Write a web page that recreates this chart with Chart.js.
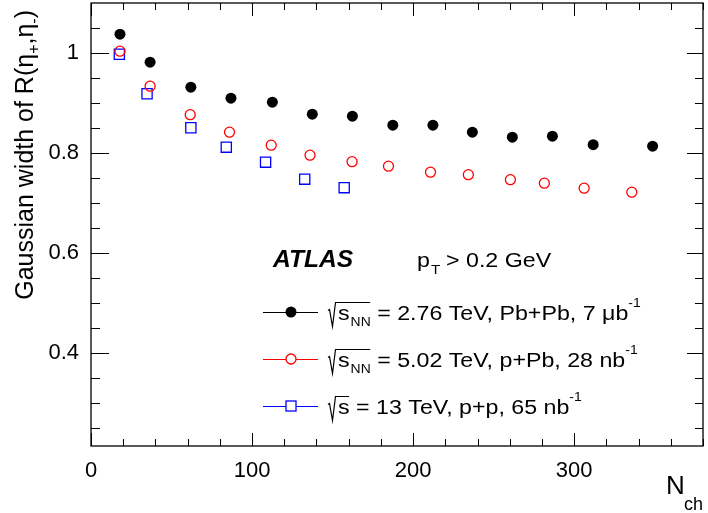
<!DOCTYPE html>
<html>
<head>
<meta charset="utf-8">
<script src="https://cdn.jsdelivr.net/npm/chart.js@4.4.1/dist/chart.umd.min.js"></script>
<style>
html, body { margin: 0; padding: 0; background: #fff; }
</style>
</head>
<body>
<canvas id="myChart" width="708" height="513"></canvas>
<script>
// Pb+Pb 2.76 TeV
const nchPbPb = [18.0, 36.7, 62.0, 86.9, 112.6, 137.4, 162.3, 187.4, 212.3, 236.8, 261.6, 286.5, 311.8, 348.7]
const widthPbPb = [1.037, 0.981, 0.931, 0.909, 0.901, 0.877, 0.873, 0.855, 0.855, 0.841, 0.831, 0.833, 0.816, 0.813]
// p+Pb 5.02 TeV
const nchPPb = [18.0, 36.7, 61.6, 86.0, 111.9, 136.0, 162.1, 184.7, 210.8, 234.3, 260.4, 281.5, 306.2, 335.8]
const widthPPb = [1.003, 0.933, 0.876, 0.841, 0.815, 0.795, 0.782, 0.773, 0.761, 0.756, 0.746, 0.739, 0.729, 0.721]
// p+p 13 TeV
const nchPP = [17.6, 34.8, 62.0, 84.0, 108.4, 132.7, 157.2]
const widthPP = [0.997, 0.918, 0.850, 0.811, 0.781, 0.747, 0.730]

const seriesSub = ['NN', 'NN', '']
const seriesText = [' = 2.76 TeV, Pb+Pb, 7 \u03bcb', ' = 5.02 TeV, p+Pb, 28 nb', ' = 13 TeV, p+p, 65 nb']
const seriesColors = ['#000000', '#ff0000', '#0000ff']

const xTicksMajor = [0, 100, 200, 300]
const yTicksMajor = [0.4, 0.6, 0.8, 1]

const FONT = "'Liberation Sans', Arial, Helvetica, sans-serif"

let xMinor = []
for (let v = 0; v <= 380; v += 20) xMinor.push(v)
let yMinor = []
for (let i = 5; i <= 21; i++) yMinor.push(Math.round(i * 5) / 100)

function toPoints(xs, ys) {
    return xs.map(function (x, i) { return { x: x, y: ys[i] } })
}

// draws a list of text pieces one after the other, stretched a bit in x
function richText(ctx, x, y, parts, sx) {
    ctx.save()
    ctx.translate(x, y)
    ctx.scale(sx, 1)
    let cx = 0
    parts.forEach(function (p) {
        ctx.font = p.font
        ctx.fillText(p.t, cx, p.dy || 0)
        cx += ctx.measureText(p.t).width
    })
    ctx.restore()
    return cx * sx
}

function drawSqrt(ctx, x0, yb, w) {
    ctx.beginPath()
    ctx.moveTo(x0, yb - 9)
    ctx.lineTo(x0 + 1.5, yb - 10)
    ctx.lineTo(x0 + 4.5, yb + 7)
    ctx.lineTo(x0 + 7.5, yb - 17)
    ctx.lineTo(x0 + 7.5 + w, yb - 17)
    ctx.stroke()
}

const decorPlugin = {
    id: 'decor',
    afterDraw(chart) {
        const ctx = chart.ctx
        const a = chart.chartArea
        const xs = chart.scales.x
        const ys = chart.scales.y
        ctx.save()
        ctx.strokeStyle = '#000'
        ctx.lineWidth = 1

        // ticks inside the frame
        ctx.beginPath()
        xMinor.forEach(function (v) {
            const px = Math.round(xs.getPixelForValue(v)) + 0.5
            const len = xTicksMajor.includes(v) ? 13 : 7
            ctx.moveTo(px, a.bottom); ctx.lineTo(px, a.bottom - len)
            ctx.moveTo(px, a.top); ctx.lineTo(px, a.top + len)
        })
        yMinor.forEach(function (v) {
            const py = Math.round(ys.getPixelForValue(v)) + 0.5
            const major = yTicksMajor.includes(v)
            ctx.moveTo(a.left, py); ctx.lineTo(a.left + (major ? 18 : 9), py)
            ctx.moveTo(a.right, py); ctx.lineTo(a.right - (major ? 16 : 8), py)
        })
        ctx.stroke()
        ctx.lineWidth = 1.3
        ctx.strokeRect(a.left, a.top, a.right - a.left, a.bottom - a.top)

        ctx.fillStyle = '#000'
        ctx.textBaseline = 'alphabetic'
        ctx.textAlign = 'left'

        // ATLAS label
        richText(ctx, 273, 267, [{ t: 'ATLAS', font: 'italic bold 23px ' + FONT }], 1.07)
        richText(ctx, 417, 267, [{ t: 'p', font: '20px ' + FONT }], 1.16)
        richText(ctx, 431, 274, [{ t: 'T', font: '13px ' + FONT }], 1.16)
        richText(ctx, 446, 267, [{ t: '> 0.2 GeV', font: '20px ' + FONT }], 1.16)

        // legend
        const rows = [312, 359, 406]
        rows.forEach(function (yc, i) {
            const col = seriesColors[i]
            ctx.strokeStyle = col
            ctx.lineWidth = 1
            ctx.beginPath()
            ctx.moveTo(263, yc + 0.5); ctx.lineTo(318, yc + 0.5)
            ctx.stroke()
            ctx.lineWidth = 1.3
            if (i === 0) {
                ctx.fillStyle = col
                ctx.beginPath(); ctx.arc(291, yc, 5.5, 0, Math.PI * 2); ctx.fill()
            } else if (i === 1) {
                ctx.fillStyle = '#fff'
                ctx.beginPath(); ctx.arc(291, yc, 5, 0, Math.PI * 2); ctx.fill(); ctx.stroke()
            } else {
                ctx.fillStyle = '#fff'
                ctx.fillRect(286, yc - 5, 10, 10)
                ctx.strokeRect(286, yc - 5, 10, 10)
            }

            const yb = yc + 7.5
            ctx.fillStyle = '#000'
            ctx.strokeStyle = '#000'
            ctx.lineWidth = 1.2
            const sub = seriesSub[i]
            let x = 338
            x += richText(ctx, x, yb, [{ t: 's', font: '20px ' + FONT }], 1.16)
            if (sub) x += richText(ctx, x + 1, yb + 6.5, [{ t: sub, font: '12px ' + FONT }], 1.16) + 1
            drawSqrt(ctx, 328, yb, x - 336)
            x += richText(ctx, x, yb, [{ t: seriesText[i], font: '20px ' + FONT }], 1.16)
            richText(ctx, x, yb - 13, [{ t: '-1', font: '12px ' + FONT }], 1.16)
        })

        // y title
        ctx.save()
        ctx.translate(33, 10)
        ctx.rotate(-Math.PI / 2)
        const big = '25px ' + FONT
        const small = '16px ' + FONT
        const parts = [
            { t: 'Gaussian width of R(\u03b7', font: big },
            { t: '+', font: small, dy: 6 },
            { t: ',\u03b7', font: big },
            { t: '-', font: small, dy: 6 },
            { t: ')', font: big }
        ]
        let total = 0
        parts.forEach(function (p) { ctx.font = p.font; total += ctx.measureText(p.t).width })
        richText(ctx, -total, 0, parts, 1)
        ctx.restore()

        // x title
        richText(ctx, 666, 494, [{ t: 'N', font: '26px ' + FONT }], 1)
        richText(ctx, 684, 510, [{ t: 'ch', font: '18px ' + FONT }], 1)

        ctx.restore()
    }
}

Chart.defaults.font.family = FONT
Chart.defaults.color = '#000'

let currChart = document.getElementById('myChart').getContext('2d')
let scatterChart = new Chart(currChart, {
    type: 'scatter',
    data: {
        datasets: [{
            label: 'Pb+Pb',
            data: toPoints(nchPbPb, widthPbPb),
            pointStyle: 'circle',
            pointRadius: 5.5,
            backgroundColor: '#000000',
            borderColor: '#000000',
            borderWidth: 0
        }, {
            label: 'p+Pb',
            data: toPoints(nchPPb, widthPPb),
            pointStyle: 'circle',
            pointRadius: 5,
            backgroundColor: 'rgba(0,0,0,0)',
            borderColor: '#ff0000',
            borderWidth: 1.3
        }, {
            label: 'p+p',
            data: toPoints(nchPP, widthPP),
            pointStyle: 'rect',
            pointRadius: 7.2,
            backgroundColor: 'rgba(0,0,0,0)',
            borderColor: '#0000ff',
            borderWidth: 1.3
        }]
    },
    options: {
        responsive: false,
        animation: false,
        layout: {
            autoPadding: false,
            padding: { top: 3, right: 5, left: 0, bottom: 0 }
        },
        scales: {
            x: {
                type: 'linear',
                min: 0,
                max: 380,
                grid: { display: false },
                border: { display: false },
                afterBuildTicks: function (scale) {
                    scale.ticks = xTicksMajor.map(function (v) { return { value: v } })
                },
                afterFit: function (scale) {
                    scale.height = 67
                    scale.paddingLeft = 0
                    scale.paddingRight = 0
                },
                ticks: {
                    font: { size: 22 },
                    color: '#000',
                    padding: 4,
                    maxRotation: 0,
                    callback: function (v) { return String(v) }
                }
            },
            y: {
                min: 0.2133,
                max: 1.0994,
                grid: { display: false },
                border: { display: false },
                afterBuildTicks: function (scale) {
                    scale.ticks = yTicksMajor.map(function (v) { return { value: v } })
                },
                afterFit: function (scale) {
                    scale.width = 91
                    scale.paddingTop = 0
                    scale.paddingBottom = 0
                },
                ticks: {
                    font: { size: 22 },
                    color: '#000',
                    padding: 4,
                    callback: function (v) { return String(v) }
                }
            }
        },
        plugins: {
            legend: { display: false },
            tooltip: { enabled: false }
        }
    },
    plugins: [decorPlugin]
})
</script>
</body>
</html>
